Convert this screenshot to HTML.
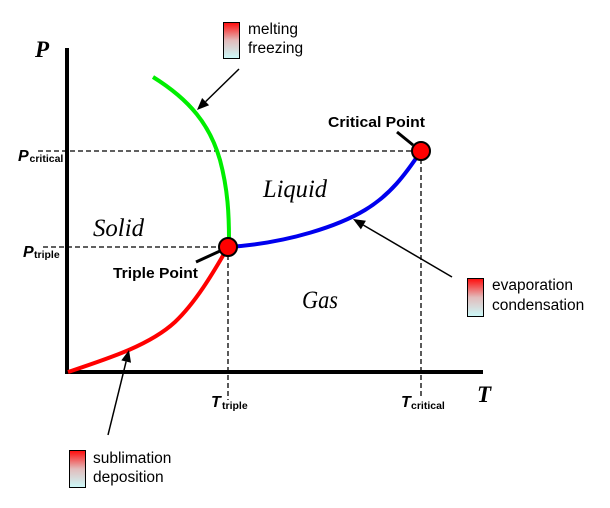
<!DOCTYPE html>
<html>
<head>
<meta charset="utf-8">
<style>
html,body{margin:0;padding:0;background:#fff;}
svg{display:block;}
</style>
</head>
<body>
<svg width="610" height="508" viewBox="0 0 610 508" xmlns="http://www.w3.org/2000/svg">
<defs>
<linearGradient id="lg" x1="0" y1="0" x2="0" y2="1">
<stop offset="0" stop-color="#ff0a0a"/>
<stop offset="0.5" stop-color="#e2bcbc"/>
<stop offset="1" stop-color="#ccfafa"/>
</linearGradient>
</defs>
<rect width="610" height="508" fill="#fff"/>

<!-- dashed guides -->
<g stroke="#000" stroke-width="1.3" stroke-dasharray="5,3" fill="none">
<line x1="38" y1="151" x2="421" y2="151"/>
<line x1="43" y1="247" x2="228" y2="247"/>
<line x1="228" y1="247" x2="228" y2="400"/>
<line x1="421" y1="151" x2="421" y2="396"/>
</g>

<!-- axes -->
<line x1="67" y1="48" x2="67" y2="374" stroke="#000" stroke-width="4"/>
<line x1="65" y1="372" x2="483" y2="372" stroke="#000" stroke-width="4"/>

<!-- curves -->
<path d="M153,77 C190,100 210,125 220,160 C228,190 229,215 229,240" stroke="#00ee00" stroke-width="4" fill="none"/>
<path d="M228,247 C290,243 340,225 365,210 C390,195 405,175 421,151" stroke="#0000ee" stroke-width="4" fill="none"/>
<path d="M68,372 C110,358 150,345 175,322 C195,303 212,275 228,247" stroke="#ff0000" stroke-width="4" fill="none"/>

<!-- pointers -->
<line x1="196" y1="262" x2="220" y2="251" stroke="#000" stroke-width="3"/>
<line x1="397" y1="132" x2="413" y2="145" stroke="#000" stroke-width="3"/>

<!-- points -->
<circle cx="228" cy="247" r="9" fill="#ff0000" stroke="#000" stroke-width="2"/>
<circle cx="421" cy="151" r="9" fill="#ff0000" stroke="#000" stroke-width="2"/>

<!-- arrows -->
<g stroke="#000" stroke-width="1.5">
<line x1="239" y1="69" x2="205.6" y2="101.6"/>
<line x1="452" y1="277" x2="363.4" y2="225.1"/>
<line x1="108" y1="435" x2="126.1" y2="361.6"/>
</g>
<polygon points="197,110 209.1,105.2 202.1,98.0" fill="#000"/>
<polygon points="353,219 365.9,220.8 360.9,229.4" fill="#000"/>
<polygon points="129,350 131,362.8 121.3,360.4" fill="#000"/>

<!-- legend boxes -->
<rect x="223.5" y="22.5" width="16" height="36" fill="url(#lg)" stroke="#000" stroke-width="1"/>
<rect x="467.5" y="278.5" width="16" height="38" fill="url(#lg)" stroke="#000" stroke-width="1"/>
<rect x="69.5" y="450.5" width="16" height="37" fill="url(#lg)" stroke="#000" stroke-width="1"/>

<g font-family="'Liberation Sans', Arial, sans-serif" font-size="15.5" fill="#000">
<text x="248" y="34">melting</text>
<text x="248" y="53">freezing</text>
<text x="492" y="290">evaporation</text>
<text x="492" y="310">condensation</text>
<text x="93" y="463">sublimation</text>
<text x="93" y="482">deposition</text>
</g>

<g font-family="'Liberation Sans', Arial, sans-serif" font-weight="bold" font-size="15" fill="#000">
<text x="328" y="127" textLength="97" lengthAdjust="spacingAndGlyphs">Critical Point</text>
<text x="113" y="278" textLength="85" lengthAdjust="spacingAndGlyphs">Triple Point</text>
</g>

<g font-family="'Liberation Serif', 'Times New Roman', serif" font-style="italic" font-size="25" fill="#000">
<text x="93" y="236" textLength="51" lengthAdjust="spacingAndGlyphs">Solid</text>
<text x="263" y="197" textLength="64" lengthAdjust="spacingAndGlyphs">Liquid</text>
<text x="302" y="308" textLength="36" lengthAdjust="spacingAndGlyphs">Gas</text>
</g>

<g font-family="'Liberation Serif', 'Times New Roman', serif" font-style="italic" font-weight="bold" font-size="23" fill="#000">
<text x="35" y="57">P</text>
<text x="477" y="402">T</text>
</g>

<g font-family="'Liberation Sans', Arial, sans-serif" font-weight="bold" fill="#000">
<text x="18" y="161" font-size="16" font-style="italic">P</text>
<text x="29.5" y="162" font-size="10.5">critical</text>
<text x="23" y="257" font-size="16" font-style="italic">P</text>
<text x="34" y="258" font-size="10.5">triple</text>
<text x="211" y="407" font-size="16" font-style="italic">T</text>
<text x="222" y="409" font-size="10.5">triple</text>
<text x="401" y="407" font-size="16" font-style="italic">T</text>
<text x="411" y="409" font-size="10.5">critical</text>
</g>
</svg>
</body>
</html>
